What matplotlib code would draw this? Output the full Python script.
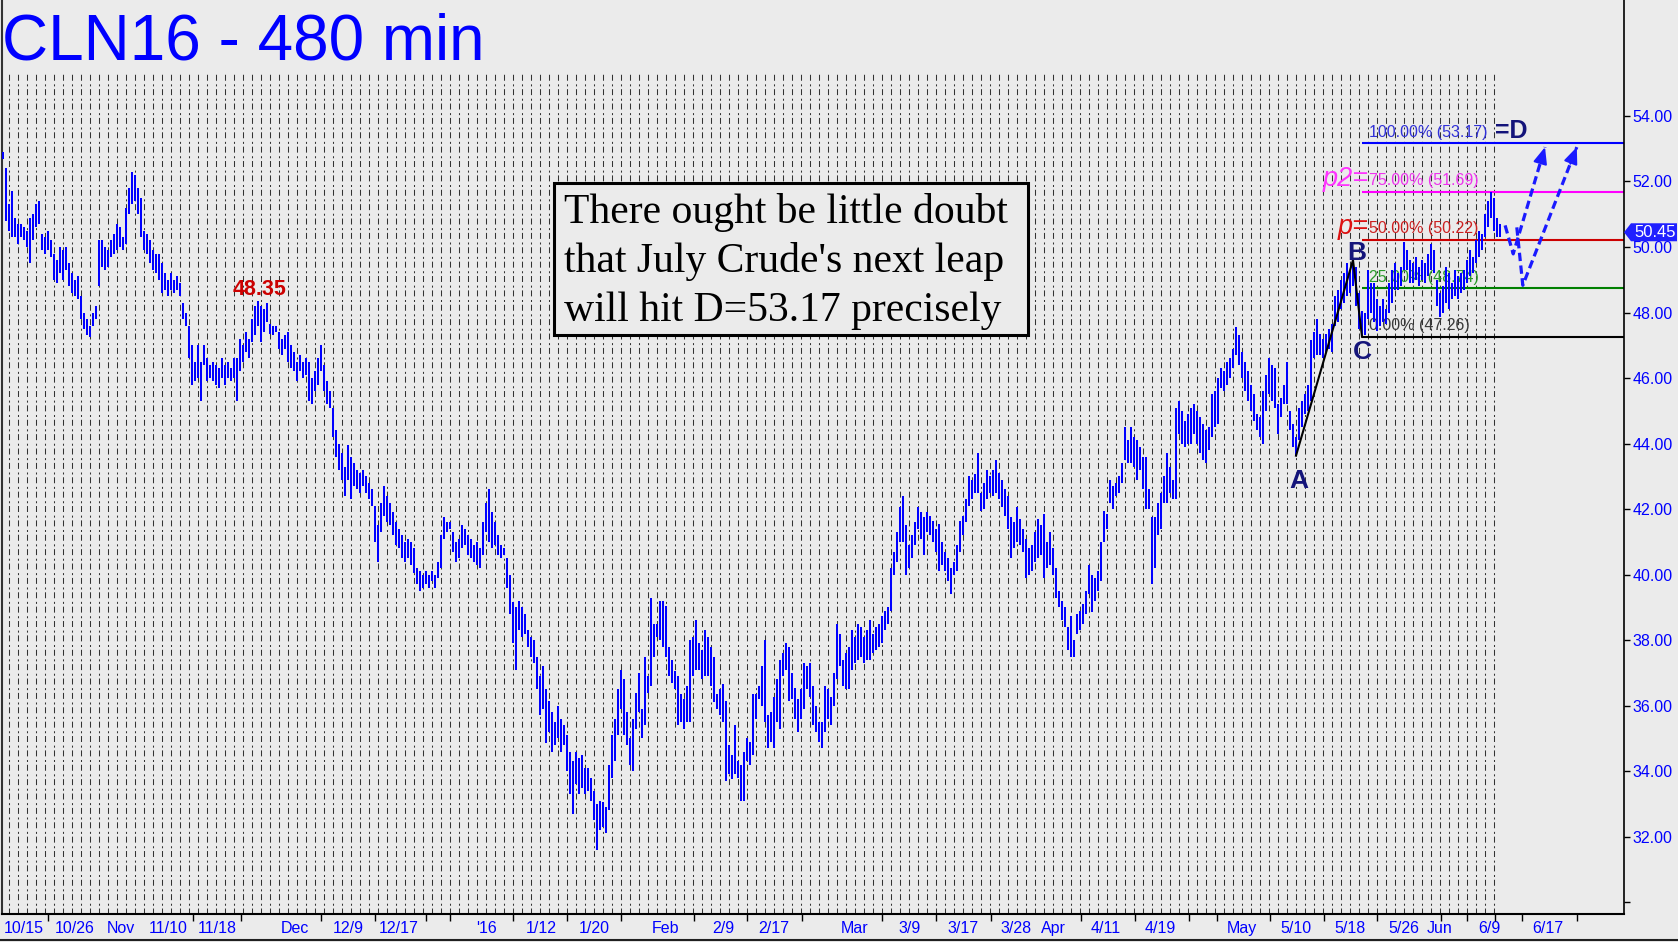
import numpy as np
import matplotlib
matplotlib.use('Agg')
import matplotlib.pyplot as plt
from matplotlib.lines import Line2D
from matplotlib.patches import Rectangle, Polygon

plt.rcParams['lines.scale_dashes'] = False
plt.rcParams['font.family'] = ['Liberation Sans', 'DejaVu Sans']

# ---------------- data ----------------
bar_high = [
    52.9, 52.4, 51.3, 51.7, 50.9, 50.7, 50.7, 50.6, 50.5, 50.9,
    51.0, 51.3, 51.4, 50.4, 50.3, 50.5, 50.2, 49.8, 49.6, 50.0,
    49.9, 50.0, 49.5, 49.2, 49.0, 49.1, 48.5, 48.0, 47.8, 47.6,
    48.0, 48.2, 50.2, 50.2, 50.0, 49.9, 50.2, 50.4, 50.7, 50.6,
    50.3, 51.2, 51.8, 52.3, 52.2, 51.8, 51.5, 50.5, 50.4, 50.2,
    49.9, 49.8, 49.8, 49.5, 49.2, 49.0, 49.2, 49.0, 49.1, 48.9,
    48.3, 48.0, 47.6, 47.0, 46.5, 47.0, 46.5, 47.0, 46.6, 46.4,
    46.5, 46.4, 46.3, 46.6, 46.4, 46.5, 46.3, 46.6, 46.6, 47.2,
    47.0, 47.4, 47.2, 47.8, 48.2, 48.35, 48.2, 48.1, 48.3, 47.65,
    47.6, 47.6, 47.4, 47.2, 47.3, 47.4, 47.0, 46.8, 46.5, 46.7,
    46.5, 46.6, 46.5, 46.0, 46.2, 46.6, 47.0, 46.4, 45.9, 45.6,
    45.1, 44.4, 44.0, 43.7, 43.3, 43.95, 43.6, 43.4, 43.2, 43.1,
    43.2, 43.0, 42.8, 42.6, 42.1, 41.5, 42.2, 42.7, 42.4, 42.2,
    41.9, 41.6, 41.4, 41.2, 41.0, 41.1, 41.0, 40.8, 40.2, 40.1,
    40.0, 40.1, 40.0, 40.1, 40.0, 40.4, 41.2, 41.75, 41.6, 41.6,
    41.3, 41.0, 41.1, 41.5, 41.4, 41.2, 41.1, 40.9, 41.0, 40.8,
    41.6, 42.2, 42.6, 41.9, 41.6, 41.2, 40.9, 40.8, 40.5, 40.0,
    39.15, 39.0, 39.2, 39.0, 38.8, 38.3, 38.1, 38.0, 37.5, 36.9,
    37.2, 36.5, 36.15, 35.8, 35.5, 36.0, 35.6, 35.4, 35.1, 34.6,
    34.3, 34.6, 34.4, 34.5, 34.1, 34.1, 33.8, 33.4, 33.0, 33.1,
    33.05, 32.9, 34.2, 35.1, 35.6, 36.5, 37.1, 36.8, 35.8, 35.0,
    35.6, 36.4, 37.0, 35.9, 37.5, 36.9, 39.3, 38.5, 38.5, 39.2,
    39.2, 39.05, 37.8, 37.4, 37.06, 36.9, 36.35, 36.2, 36.6, 38.0,
    38.1, 38.6, 37.9, 37.7, 38.3, 38.1, 37.8, 37.5, 36.35, 36.5,
    36.66, 36.15, 34.8, 34.5, 35.4, 34.3, 34.2, 34.6, 35.0, 34.9,
    36.35, 36.35, 36.6, 37.2, 38.0, 35.7, 35.8, 36.25, 36.8, 37.4,
    37.6, 37.9, 37.8, 37.0, 36.55, 36.2, 36.5, 37.3, 37.2, 37.3,
    36.6, 36.0, 35.5, 35.5, 36.6, 36.5, 36.25, 37.0, 38.5, 38.2,
    37.4, 37.6, 37.8, 38.3, 38.1, 38.5, 38.4, 38.1, 38.3, 38.6,
    38.2, 38.4, 38.5, 38.75, 38.9, 39.0, 40.2, 40.7, 41.3, 42.05,
    42.4, 41.5, 40.9, 41.2, 41.6, 42.05, 41.9, 41.75, 41.9, 41.8,
    41.65, 41.4, 41.55, 41.0, 40.7, 40.5, 40.2, 40.4, 40.9, 41.65,
    41.8, 42.3, 43.0, 42.9, 43.07, 43.7, 42.5, 42.8, 43.2, 43.0,
    43.2, 43.5, 43.1, 42.9, 42.6, 42.4, 41.75, 41.6, 42.05, 41.7,
    41.4, 41.1, 40.8, 40.9, 41.3, 41.7, 41.5, 41.85, 41.0, 41.3,
    40.8, 40.2, 39.5, 39.2, 39.0, 38.4, 38.75, 38.0, 38.8, 38.9,
    39.1, 39.5, 40.3, 40.0, 39.9, 40.1, 41.0, 41.95, 41.85, 42.9,
    42.7, 42.8, 43.0, 43.4, 44.5, 44.1, 44.5, 44.2, 44.1, 43.9,
    43.6, 43.6, 42.6, 41.75, 41.75, 42.2, 42.5, 43.0, 43.7, 43.3,
    42.9, 45.1, 45.3, 45.0, 44.7, 44.9, 45.1, 45.2, 45.0, 44.8,
    44.6, 44.4, 44.5, 45.5, 45.6, 46.0, 46.3, 46.2, 46.5, 46.6,
    46.9, 47.55, 47.3, 46.8, 46.5, 46.2, 45.8, 45.5, 44.9, 44.8,
    45.6, 46.1, 46.6, 46.4, 46.3, 45.2, 45.4, 45.8, 46.5, 45.0,
    44.6, 44.2, 45.1, 45.3, 45.5, 45.8, 47.15, 47.4, 47.8, 47.35,
    47.2, 47.35, 47.5, 47.65, 48.5, 48.7, 49.0, 49.2, 49.5, 49.3,
    49.6, 49.4, 48.6, 48.06, 48.0, 49.3, 48.9, 48.9, 48.4, 48.2,
    48.4, 48.1, 48.9, 49.3, 49.5, 49.2, 49.4, 50.15, 49.9, 49.6,
    49.5, 49.7, 49.4, 49.6, 49.5, 49.8, 50.1, 49.9, 49.0, 48.6,
    48.8, 49.4, 49.2, 48.9, 49.3, 49.1, 49.2, 49.3, 49.6, 49.9,
    49.7, 50.2, 50.5, 50.4, 51.0, 51.4, 51.68, 51.5, 50.9, 50.7,
]
bar_low = [
    52.7, 50.8, 50.5, 50.3, 50.3, 50.1, 50.3, 50.2, 50.0, 49.5,
    50.2, 50.6, 50.7, 49.9, 49.8, 49.9, 49.7, 49.0, 48.9, 49.2,
    49.0, 49.3, 48.8, 48.6, 48.5, 48.4, 47.8, 47.5, 47.3, 47.25,
    47.6, 47.8, 48.8, 49.4, 49.3, 49.4, 49.7, 49.8, 49.9, 50.0,
    49.9, 50.1, 51.0, 51.3, 51.4, 51.0, 50.3, 49.9, 49.8, 49.5,
    49.3, 49.2, 49.0, 48.6, 48.7, 48.5, 48.7, 48.6, 48.7, 48.5,
    47.8, 47.6, 46.6, 45.8, 45.9, 46.0, 45.3, 46.4, 45.9, 46.0,
    45.9, 45.8, 45.7, 46.0, 45.8, 46.0, 45.9, 46.0, 45.3, 46.2,
    46.5, 46.8, 46.6, 47.1, 47.3, 47.6, 47.1, 47.4, 47.7, 47.35,
    47.3, 47.4, 46.9, 46.7, 46.9, 46.5, 46.3, 46.2, 45.9, 46.2,
    46.0, 46.1, 45.3, 45.2, 45.6, 45.8, 46.2, 45.6, 45.2, 45.1,
    44.2, 43.6, 43.2, 42.9, 42.4, 42.9, 42.3, 42.7, 42.6, 42.5,
    42.7, 42.5, 42.3, 42.1, 41.0, 40.4, 41.3, 41.8, 41.6, 41.5,
    41.2, 40.9, 40.8, 40.5, 40.4, 40.5, 40.3, 40.05, 39.7, 39.5,
    39.6, 39.7, 39.6, 39.8, 39.6, 39.9, 40.2, 41.1, 41.3, 41.4,
    40.7, 40.4, 40.5, 40.8, 40.9, 40.6, 40.5, 40.4, 40.3, 40.2,
    40.6, 41.3, 41.0, 40.8, 40.9, 40.6, 40.5, 40.6, 39.6, 38.8,
    37.9, 37.1, 38.3, 38.1, 38.2, 37.8, 37.5, 37.3, 36.5, 35.7,
    35.9, 34.85, 35.2, 34.6, 34.8, 35.0, 34.6, 34.8, 34.0, 33.3,
    32.7, 33.6, 33.3, 33.5, 33.3, 33.4, 33.1, 32.5, 31.6, 32.2,
    32.3, 32.1, 32.8, 33.8, 34.3, 35.1, 35.9, 35.1, 34.8, 34.2,
    34.0, 35.3, 35.8, 35.0, 35.4, 36.4, 36.6, 37.5, 38.1, 38.0,
    37.8, 37.5, 36.9, 36.7, 36.5, 35.4, 35.5, 35.3, 35.5, 35.5,
    36.9, 37.1, 37.1, 36.8, 36.9, 36.9, 36.6, 36.1, 35.9, 35.7,
    35.5, 33.7, 33.9, 33.76, 33.9, 33.8, 33.1, 33.1, 34.3, 34.2,
    34.5, 35.6, 36.2, 36.0, 35.5, 34.7, 34.9, 34.7, 35.5, 35.3,
    36.9, 37.1, 36.15, 36.2, 35.6, 35.2, 35.6, 35.9, 36.5, 36.25,
    35.4, 35.2, 34.9, 34.7, 35.2, 35.6, 35.4, 36.0, 36.8, 37.2,
    36.6, 36.5, 36.5, 37.1, 37.3, 37.4, 37.5, 37.3, 37.4, 37.4,
    37.6, 37.7, 37.8, 37.9, 38.3, 38.5, 38.9, 40.0, 40.4, 41.0,
    41.0, 40.0, 40.2, 40.5, 40.9, 41.4, 41.1, 40.6, 41.3, 41.2,
    41.0, 40.7, 40.1, 40.3, 40.1, 39.8, 39.4, 40.0, 40.1, 40.7,
    41.2, 41.6, 42.1, 42.3, 42.5, 42.5, 41.95, 42.0, 42.3, 42.5,
    42.4, 42.5, 42.3, 42.05, 41.8, 41.4, 40.5, 40.8, 41.0, 40.9,
    40.7, 39.9, 40.0, 40.1, 40.4, 40.5, 40.6, 39.9, 40.2, 40.3,
    40.0, 39.3, 39.0, 38.6, 38.4, 37.7, 37.5, 37.5, 38.2, 38.3,
    38.5, 38.8, 39.4, 38.85, 39.2, 39.5, 39.8, 41.0, 41.4, 42.2,
    42.0, 42.4, 42.5, 42.8, 43.5, 43.4, 43.4, 43.3, 42.9, 43.2,
    42.6, 42.0, 42.0, 39.7, 40.2, 41.2, 41.4, 42.2, 42.2, 42.5,
    42.3, 42.3, 44.3, 44.0, 43.9, 44.0, 44.0, 44.3, 44.0, 43.7,
    43.5, 43.4, 43.8, 44.2, 44.5, 44.6, 45.7, 45.6, 45.8, 46.0,
    46.3, 46.7, 46.4, 46.0, 45.6, 45.3, 45.0, 44.7, 44.4, 44.2,
    44.0, 45.0, 45.5, 45.3, 45.1, 44.3, 44.8, 45.2, 45.2, 44.4,
    43.9, 43.63, 44.1, 44.5, 44.9, 45.0, 45.3, 46.6, 46.7, 46.7,
    46.6, 46.8, 46.9, 46.8, 47.6, 47.7, 48.1, 48.3, 48.5, 48.6,
    48.8, 48.2, 47.5, 47.26, 47.3, 47.8, 48.0, 47.7, 47.45, 47.6,
    47.7, 47.65, 48.0, 48.3, 48.7, 48.7, 48.8, 49.3, 49.3, 48.9,
    48.9, 49.0, 48.8, 49.0, 48.9, 49.1, 49.3, 49.2, 48.2, 47.86,
    48.0, 48.3, 48.1, 48.4, 48.5, 48.4, 48.6, 48.7, 48.9, 49.1,
    49.2, 49.5, 49.7, 49.9, 50.3, 50.6, 50.9, 50.5, 50.3, 50.3,
]
last_price = 50.45

date_labels = ['10/15', '10/26', 'Nov', '11/10', '11/18', 'Dec', '12/9', '12/17', "'16",
               '1/12', '1/20', 'Feb', '2/9', '2/17', 'Mar', '3/9', '3/17', '3/28', 'Apr',
               '4/11', '4/19', 'May', '5/10', '5/18', '5/26', 'Jun', '6/9', '6/17']
date_bar_index = [7.0, 24.0, 39.2, 55.2, 71.3, 97.2, 115, 132, 161.3,
                  179.3, 197.2, 220.9, 240, 257, 284, 302.2, 320, 337.7, 350.3,
                  367.7, 385.9, 413, 431, 449, 467, 479, 495.3, 515]
date_tick_index = [15, 39.2, 63.3, 79.3, 106, 124, 141, 149, 170, 188, 206, 230.3, 248,
                   266.3, 284, 292.9, 311, 320, 329.3, 350.3, 359.2, 377.3, 395.2, 404.6,
                   422.3, 440.2, 458, 479.3, 488, 497.2, 506.2, 524.5]

price_ticks = [30, 32, 34, 36, 38, 40, 42, 44, 46, 48, 50, 52, 54]

fib_pcts = [0.0, 25.0, 50.0, 75.0, 100.0]
fib_values = [47.26, 48.74, 50.22, 51.69, 53.17]
fib_line_colors = ['#000000', '#008000', '#cc0000', '#ff00ff', '#0000ff']
fib_text_colors = ['#3a3a3a', '#2a9a2a', '#cc2020', '#ee33ee', '#3030d8']

proj1_x = [500.7, 503.4, 514.0]
proj1_y = [50.66, 49.79, 53.05]
proj2_x = [504.6, 506.6, 524.6]
proj2_y = [50.60, 48.83, 53.05]

note_lines = ["There ought be little doubt",
              "that July Crude's next leap",
              "will hit D=53.17 precisely"]

# ---------------- figure ----------------
W, H = 1678, 942
BG = '#ebebeb'
BLUE = '#0000ff'
NAVY = '#14147a'
fig = plt.figure(figsize=(W / 100, H / 100), dpi=100, facecolor=BG)


def fx(px):
    return px / W


def fy(py):
    return 1 - py / H


ax = fig.add_axes([fx(2), fy(914), fx(1624) - fx(2), fy(0) - fy(914)])
ax.set_facecolor(BG)
ax.set_xlim(-0.33, 540.33)
ax.set_ylim(29.64, 57.54)

n = len(bar_high)
xb = np.arange(n)
highs = np.array(bar_high)
lows = np.array(bar_low)

# daily dashed grid
grid_x = np.arange(2.1, n, 3)
ax.vlines(grid_x, 29.64, 55.35, colors='#333333', linewidth=0.75,
          linestyles=[(0, (4.3, 2.0, 1.45, 2.6))], zorder=1)

# fib retracement lines and labels
iA = 420 + int(np.argmin(lows[420:440]))
iB = 440 + int(np.argmax(highs[440:455]))
iC = 450 + int(np.argmin(lows[450:456]))
xr = ax.get_xlim()[1]
for p, v, lc, tc in zip(fib_pcts, fib_values, fib_line_colors, fib_text_colors):
    ax.hlines(v, iC, xr, colors=lc, linewidth=1.5, zorder=2)
    ax.annotate(f'{p:.2f}% ({v:.2f})', xy=(iC, v), xytext=(5, 4.6),
                textcoords='offset points', ha='left', va='baseline',
                fontsize=11.5, color=tc, zorder=2)
ax.annotate('p2=', xy=(iC, fib_values[3]), xytext=(5, 4.3), textcoords='offset points',
            ha='right', va='baseline', fontsize=19.5, style='italic', color='#ff33ff', zorder=2)
ax.annotate('p=', xy=(iC, fib_values[2]), xytext=(5, 4.3), textcoords='offset points',
            ha='right', va='baseline', fontsize=19.5, style='italic', color='#dd1111', zorder=2)
ax.annotate('=D', xy=(iC, fib_values[4]), xytext=(96, 4.0), textcoords='offset points',
            ha='left', va='baseline', fontsize=18, fontweight='bold', color=NAVY, zorder=2)

# OHLC bars (high-low)
ax.vlines(xb, lows, highs, colors=BLUE, linewidth=1.44, antialiased=False, zorder=3)

# A-B-C swing line
ax.plot([iA, iB, iC], [lows[iA], highs[iB], lows[iC]], color='black', linewidth=1.5, zorder=4)
ax.annotate('A', xy=(iA, lows[iA]), xytext=(2, -18), textcoords='offset points',
            ha='center', va='center', fontsize=19, fontweight='bold', color=NAVY, zorder=5)
ax.annotate('B', xy=(iB, highs[iB]), xytext=(3, 5), textcoords='offset points',
            ha='center', va='center', fontsize=19, fontweight='bold', color=NAVY, zorder=5)
ax.annotate('C', xy=(iC, lows[iC]), xytext=(0, -11), textcoords='offset points',
            ha='center', va='center', fontsize=19, fontweight='bold', color=NAVY, zorder=5)

# swing-high label
ip = 60 + int(np.argmax(highs[60:110]))
ax.annotate(f'{highs[ip]:.2f}', xy=(ip, highs[ip]), xytext=(1, 4.5), textcoords='offset points',
            ha='center', va='baseline', fontsize=15.5, fontweight='bold', color='#cc0000', zorder=5)

# projected dashed paths with arrowheads
for px_, py_ in ((proj1_x, proj1_y), (proj2_x, proj2_y)):
    ax.plot(px_, py_, color='#1a1aff', linewidth=2.3, linestyle=(0, (6, 3.2)), zorder=5)
    tx, ty = px_[-1], py_[-1]
    bx = tx - 0.12 * (px_[-1] - px_[-2])
    by = ty - 0.12 * (py_[-1] - py_[-2])
    ax.annotate('', xy=(tx, ty), xytext=(bx, by),
                arrowprops=dict(arrowstyle='-|>,head_length=1.0,head_width=0.42',
                                color='#1a1aff', lw=1.5, shrinkA=0, shrinkB=0,
                                mutation_scale=10), zorder=5)

# axes styling
ax.spines['top'].set_visible(False)
ax.spines['left'].set_color('#333333')
ax.spines['left'].set_linewidth(1.5)
ax.spines['right'].set_color('black')
ax.spines['right'].set_linewidth(1.2)
ax.spines['bottom'].set_color('black')
ax.spines['bottom'].set_linewidth(1.5)

ax.yaxis.tick_right()
ax.set_yticks(price_ticks)
ax.set_yticklabels(['' if v == 30 else f'{v:.2f}' for v in price_ticks])
ax.tick_params(axis='y', which='major', length=4, width=1, color='black',
               labelcolor=BLUE, labelsize=11.5, pad=2, direction='out')

ax.set_xticks(date_bar_index)
ax.set_xticklabels(date_labels)
ax.set_xticks(date_tick_index, minor=True)
ax.tick_params(axis='x', which='major', length=0, labelsize=11.5, labelcolor=BLUE, pad=5)
ax.tick_params(axis='x', which='minor', length=5, width=1, color='black', direction='out')

# last price tag on the right axis
yc = ax.transData.transform((0, last_price))[1]
xa = ax.transAxes.transform((1, 0))[0]
tag = Polygon([(xa, yc), (xa + 7, yc + 9), (xa + 53, yc + 9), (xa + 53, yc - 9),
               (xa + 7, yc - 9)], closed=True, transform=None,
              facecolor='#2020ff', edgecolor='none', zorder=10)
fig.add_artist(tag)
fig.text((xa + 31) / W, yc / H, f'{last_price:.2f}', color='white', fontsize=12,
         ha='center', va='center', zorder=11)

# title
fig.text(fx(2.5), fy(60), 'CLN16 - 480 min', fontsize=46, color=BLUE, va='baseline')

# comment box
rect = Rectangle((fx(554), fy(335)), fx(1028) - fx(554), fy(183) - fy(335),
                 transform=fig.transFigure, facecolor=BG, edgecolor='black',
                 linewidth=2.2, zorder=6)
fig.add_artist(rect)
for k, line in enumerate(note_lines):
    fig.text(fx(564), fy(222.6 + 49.2 * k), line, fontsize=30, family='Liberation Serif',
             color='black', va='baseline', zorder=7)

# bottom status line
fig.add_artist(Line2D([0, 1], [fy(940), fy(940)], transform=fig.transFigure,
                      color='#202020', linewidth=1.5))

fig.savefig('out.png', dpi=100, facecolor=BG)
